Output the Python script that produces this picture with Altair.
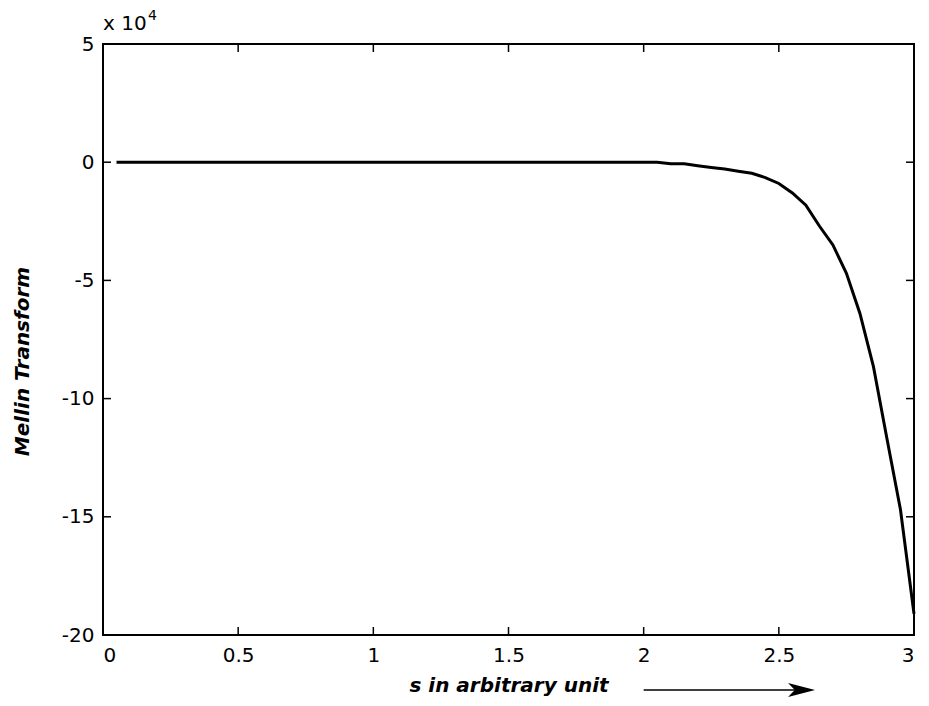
import altair as alt
import pandas as pd

# s values (x axis) and Mellin transform values (in units of 1e4)
s_values = [0.05, 0.10, 0.15, 0.20, 0.25, 0.30, 0.35, 0.40, 0.45, 0.50,
            0.55, 0.60, 0.65, 0.70, 0.75, 0.80, 0.85, 0.90, 0.95, 1.00,
            1.05, 1.10, 1.15, 1.20, 1.25, 1.30, 1.35, 1.40, 1.45, 1.50,
            1.55, 1.60, 1.65, 1.70, 1.75, 1.80, 1.85, 1.90, 1.95, 2.00,
            2.05, 2.10, 2.15, 2.20, 2.25, 2.30, 2.35, 2.40, 2.45, 2.50,
            2.55, 2.60, 2.65, 2.70, 2.75, 2.80, 2.85, 2.90, 2.95, 3.00]
mellin_values = [0, 0, 0, 0, 0, 0, 0, 0, 0, 0,
                 0, 0, 0, 0, 0, 0, 0, 0, 0, 0,
                 0, 0, 0, 0, 0, 0, 0, 0, 0, 0,
                 0, 0, 0, 0, 0, 0, 0, 0, 0, 0,
                 0, -0.07, -0.07, -0.15, -0.22, -0.29, -0.38, -0.47, -0.65, -0.9,
                 -1.3, -1.82, -2.7, -3.5, -4.7, -6.4, -8.65, -11.7, -14.7, -19.1]

x_ticks = [0, 0.5, 1, 1.5, 2, 2.5, 3]
y_ticks = [-20, -15, -10, -5, 0, 5]

arrow_start = [2.0]
arrow_end = [2.6]
arrow_head = [2.584]

W, H = 811, 591
FONT = "DejaVu Sans"

df = pd.DataFrame({"s": s_values, "m": mellin_values})
xt = pd.DataFrame({"v": x_ticks})
yt = pd.DataFrame({"v": y_ticks})

xscale = alt.Scale(domain=[0, 3], nice=False, zero=False)
yscale = alt.Scale(domain=[-20, 5], nice=False, zero=False)

xaxis = alt.Axis(
    values=x_ticks, labelExpr="'' + datum.value",
    domain=False, ticks=False, grid=False, labelFont=FONT, labelFontSize=20,
    labelColor="black", labelPadding=10, titleFont=FONT, titleFontSize=20,
    titleFontWeight="bold", titleFontStyle="italic", titleColor="black",
    titleY=56, titleBaseline="alphabetic")
yaxis = alt.Axis(
    values=y_ticks, labelExpr="'' + datum.value",
    domain=False, ticks=False, grid=False, labelFont=FONT, labelFontSize=20,
    labelColor="black", labelPadding=9, titleFont=FONT, titleFontSize=20,
    titleFontWeight="bold", titleFontStyle="italic", titleColor="black",
    titleX=-81, titleY=317, titleAngle=-90, titleBaseline="middle",
    titleAlign="center")
XT = "s in arbitrary unit"
YT = "Mellin Transform"


def X(field):
    return alt.X(field, scale=xscale, axis=xaxis, title=XT)


def Y(field):
    return alt.Y(field, scale=yscale, axis=yaxis, title=YT)


line = alt.Chart(df).mark_line(color="black", strokeWidth=3).encode(
    x=X("s:Q"), y=Y("m:Q"))

tick_style = dict(color="black", strokeWidth=1.5)
bottom_ticks = alt.Chart(xt).mark_rule(**tick_style).encode(
    x=X("v:Q"), y=alt.value(H), y2=alt.value(H - 8))
top_ticks = alt.Chart(xt).mark_rule(**tick_style).encode(
    x=X("v:Q"), y=alt.value(0), y2=alt.value(8))
left_ticks = alt.Chart(yt).mark_rule(**tick_style).encode(
    y=Y("v:Q"), x=alt.value(0), x2=alt.value(8))
right_ticks = alt.Chart(yt).mark_rule(**tick_style).encode(
    y=Y("v:Q"), x=alt.value(W), x2=alt.value(W - 8))

exp_base = alt.Chart(pd.DataFrame({"t": ["x 10"]})).mark_text(
    font=FONT, fontSize=20, align="left", baseline="alphabetic", color="black"
).encode(text="t:N", x=alt.value(0), y=alt.value(-14))
exp_sup = alt.Chart(pd.DataFrame({"t": ["4"]})).mark_text(
    font=FONT, fontSize=14, align="left", baseline="alphabetic", color="black"
).encode(text="t:N", x=alt.value(45), y=alt.value(-24))

arrow_df = pd.DataFrame({"a": arrow_start, "b": arrow_end})
arrow_line = alt.Chart(arrow_df).mark_rule(color="black", strokeWidth=1.5, clip=False).encode(
    x=X("a:Q"), x2="b:Q", y=alt.value(646))
arrow_tip = alt.Chart(pd.DataFrame({"h": arrow_head})).mark_point(
    shape="M -1 -0.52 L 1 0 L -1 0.52 L -0.5 0 Z", filled=True, color="black",
    opacity=1, size=729, clip=False, strokeWidth=0
).encode(x=X("h:Q"), y=alt.value(646))

chart = alt.layer(
    line, bottom_ticks, top_ticks, left_ticks, right_ticks,
    exp_base, exp_sup, arrow_line, arrow_tip
).properties(
    width=W, height=H,
    autosize=alt.AutoSizeParams(type="none"),
    padding={"left": 95, "top": 36, "right": 7, "bottom": 62},
    background="white",
).configure_view(stroke="black", strokeWidth=2)

chart.save("out.html", embed_options={"renderer": "svg", "actions": False})
